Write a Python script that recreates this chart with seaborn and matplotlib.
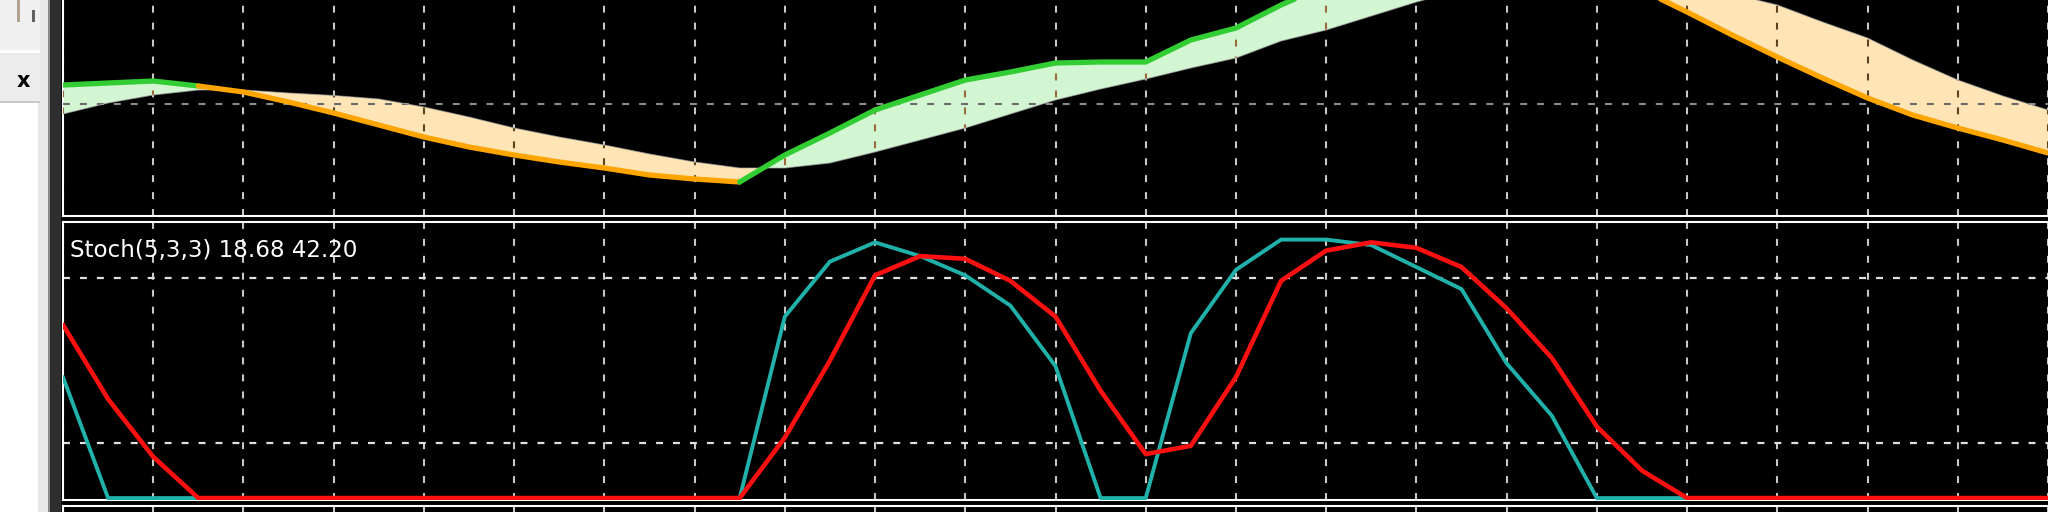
import numpy as np
import pandas as pd
import matplotlib
matplotlib.use("Agg")
import matplotlib.pyplot as plt
from matplotlib.patches import Rectangle
from matplotlib.path import Path
import seaborn as sns

# bar index, bar 0 sits on the first full grid line
bars = list(range(-2, 43))

# main window: fast / slow line (price units of the visible window)
fast_line = [131, 133, 135, 130, 124, 114, 103, 91, 79, 69, 61, 54, 48, 41, 37, 34,
             61, 83, 106, 121, 136, 144, 153, 154, 154, 176, 188, 211, 231, 246, 256,
             261, 258, 251, 238, 226, 204, 181, 159, 138, 118, 101, 88, 76, 63]
slow_line = [102, 113, 121, 126, 126, 123, 120.5, 117, 109, 99, 88, 79, 71, 62, 54, 48,
             48, 53, 64, 76, 88, 102, 116, 127, 137, 148, 158, 175, 186, 200, 214,
             226, 234, 238, 240, 241, 234, 222, 211, 194, 178, 156, 136, 120, 106]
price_grid = [112.5]

# stochastic sub-window
stoch_main = [44, 0, 0, 0, 0, 0, 0, 0, 0, 0, 0, 0, 0, 0, 0, 0,
              66, 86, 93, 88, 81, 70, 48, 0, 0, 60, 83, 94, 94, 92, 84, 76, 49, 30,
              0, 0, 0, 0, 0, 0, 0, 0, 0, 0, 0]
stoch_signal = [63, 36, 15, 0, 0, 0, 0, 0, 0, 0, 0, 0, 0, 0, 0, 0,
                22, 50, 81, 88, 87, 79, 66, 39, 16, 19, 44, 79, 90, 93, 91, 84, 69, 51, 26, 10,
                0, 0, 0, 0, 0, 0, 0, 0, 0]
stoch_levels = [20, 80]
stoch_label = "Stoch(5,3,3) 18.68 42.20"

W, H = 2048, 512
GREEN, ORANGE = "#32cd32", "#ffa500"
GREEN_FILL, ORANGE_FILL = "#d2f5d2", "#ffe4b5"

sns.set_style("dark")
plt.rcParams["lines.scale_dashes"] = False
plt.rcParams["font.family"] = ["DejaVu Sans"]
DASH = (0, (5, 7.2))

fig = plt.figure(figsize=(W / 100, H / 100), dpi=100, facecolor="black")


def ui_rect(x0, y0, x1, y1, color):
    fig.add_artist(Rectangle((x0 / W, 1 - y1 / H), (x1 - x0) / W, (y1 - y0) / H,
                             transform=fig.transFigure, facecolor=color,
                             edgecolor="none", zorder=0))


# left terminal panel
ui_rect(0, 0, 48, 512, "#e8e8e8")
ui_rect(0, 0, 40, 50, "#f0f0f0")
ui_rect(0, 50, 40, 53, "#ffffff")
ui_rect(0, 55, 40, 101, "#ececec")
ui_rect(0, 101, 40, 103, "#c8c8c8")
ui_rect(0, 103, 38, 512, "#ffffff")
ui_rect(48, 0, 50, 512, "#8a8a8a")
ui_rect(50, 0, 61, 512, "#2e2e2e")
ui_rect(17, 0, 20, 22, "#b0a090")
ui_rect(32, 10, 35, 22, "#606060")
fig.text(23 / W, 1 - 81 / H, "x", ha="center", va="center", fontsize=15,
         fontweight="bold", color="black")

xlim = ((63 - 152) / 45.5, (2048 - 152) / 45.5)
grid_x = list(range(-2, 43, 2))

ax_top = fig.add_axes([63 / W, 1 - 216 / H, (W - 63) / W, 216 / H])
ax_st = fig.add_axes([63 / W, 1 - 500 / H, (W - 63) / W, 278 / H])
ax_bot = fig.add_axes([63 / W, 0, (W - 63) / W, 6 / H])

for ax in (ax_top, ax_st, ax_bot):
    ax.set_facecolor("black")
    ax.set_xlim(*xlim)
    ax.set_xticks(grid_x)
    ax.tick_params(length=0, labelbottom=False, labelleft=False)
    for side in ("top", "bottom", "left", "right"):
        ax.spines[side].set_visible(False)
    ax.spines["left"].set_visible(True)
    ax.spines["left"].set_color("white")
    ax.spines["left"].set_linewidth(1.5)

# ---- main window
df = pd.DataFrame({"bar": bars, "fast": fast_line, "slow": slow_line})
up = (df["fast"] >= df["slow"]).to_numpy()

ax_top.set_ylim(0, 216)
ax_top.set_yticks(price_grid)
ax_top.grid(axis="x", color="#c8c8c8", linestyle=DASH, linewidth=1.5, zorder=1)
ax_top.grid(axis="y", color="#8c8c8c", linestyle=DASH, linewidth=1.5, zorder=1)
ax_top.set_axisbelow(True)

fills = []
for mask, col, dark in ((up, GREEN_FILL, "#9a6a3a"), (~up, ORANGE_FILL, "#5a4520")):
    pc = ax_top.fill_between(df["bar"], df["fast"], df["slow"], where=mask,
                             interpolate=True, color=col, lw=0, zorder=2)
    fills.append((pc, dark))

# grid seen through the cloud, drawn darker
for pc, dark in fills:
    paths = pc.get_paths()
    if not paths:
        continue
    clip = Path.make_compound_path(*paths)
    for gx in grid_x:
        ln = ax_top.axvline(gx, color=dark, linestyle=DASH, linewidth=1.5, zorder=3)
        ln.set_clip_path(clip, transform=ax_top.transData)
    for gy in price_grid:
        ln = ax_top.axhline(gy, color="#6a6a6a", linestyle=DASH, linewidth=1.5, zorder=3)
        ln.set_clip_path(clip, transform=ax_top.transData)

ax_top.plot(df["bar"], df["slow"], color="#a8a8a8", lw=0.8, alpha=0.6, zorder=3)

# coloured fast line: segment i-1 -> i takes the state of bar i
start = 1
for j in range(2, len(df) + 1):
    if j == len(df) or up[j] != up[start]:
        seg = df.iloc[start - 1:j]
        sns.lineplot(data=seg, x="bar", y="fast", ax=ax_top, estimator=None, sort=False,
                     color=GREEN if up[start] else ORANGE, lw=3.8, zorder=5)
        start = j
ax_top.spines["bottom"].set_visible(True)
ax_top.spines["bottom"].set_color("white")
ax_top.spines["bottom"].set_linewidth(1.5)
ax_top.set_xlabel("")
ax_top.set_ylabel("")

# ---- stochastic window
st = pd.DataFrame({"bar": bars, "main": stoch_main, "signal": stoch_signal})
ax_st.set_ylim(-0.7, 100.4)
ax_st.set_yticks(stoch_levels)
ax_st.grid(axis="x", color="#c8c8c8", linestyle=DASH, linewidth=1.5, zorder=1)
ax_st.grid(axis="y", color="#e0e0e0", linestyle=DASH, linewidth=1.6, zorder=1)
ax_st.set_axisbelow(True)
sns.lineplot(data=st, x="bar", y="main", ax=ax_st, color="#20b2aa", lw=2.8, zorder=4)
sns.lineplot(data=st, x="bar", y="signal", ax=ax_st, color="#ff1010", lw=3.3, zorder=5)
for side in ("top", "bottom"):
    ax_st.spines[side].set_visible(True)
    ax_st.spines[side].set_color("white")
    ax_st.spines[side].set_linewidth(1.5)
ax_st.set_xlabel("")
ax_st.set_ylabel("")
fig.text(70 / W, 1 - 250 / H, stoch_label, ha="left", va="center",
         fontsize=16.6, color="white")

# next sub-window just showing at the bottom edge
ax_bot.set_ylim(0, 1)
ax_bot.set_yticks([])
ax_bot.grid(axis="x", color="#c8c8c8", linestyle=DASH, linewidth=1.5)
ax_bot.spines["top"].set_visible(True)
ax_bot.spines["top"].set_color("white")
ax_bot.spines["top"].set_linewidth(1.5)

fig.savefig("out.png", dpi=100, facecolor="black")
